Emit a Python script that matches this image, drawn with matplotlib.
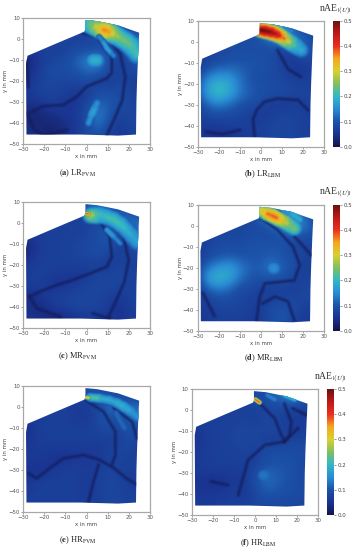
import matplotlib

matplotlib.use("Agg")
import matplotlib.pyplot as plt
import numpy as np
from matplotlib.collections import LineCollection
from matplotlib.colors import LinearSegmentedColormap, Normalize
from matplotlib.patches import Polygon

W, H = 356, 550

X_MM = [-30, -25, -20, -15, -10, -5, 0, 5, 10, 15, 20, 25]
Y_MM = [10, 5, 0, -5, -10, -15, -20, -25, -30, -35, -40, -45]

OUTLINE_X = [-28.5, -28.7, -28, -14, -1, -0.5, -0.5, 5, 15, 25, 24.6, 24, 23.7, 23.5, 15, -3, -28]
OUTLINE_Y = [-45.5, -12, -8, -2, 3.5, 4.5, 9, 8.5, 6.5, 3, -5, -20, -30, -45.5, -46, -45.5, -45.5]

# nAE values in hundredths, rows follow Y_MM, columns follow X_MM
LR_FVM = [
    [8, 8, 8, 8, 8, 8, 14, 16, 12, 9, 8, 8],
    [8, 8, 8, 8, 8, 8, 10, 14, 14, 12, 10, 8],
    [8, 8, 8, 8, 8, 7, 7, 8, 10, 10, 12, 12],
    [6, 6, 7, 7, 7, 9, 9, 10, 9, 8, 10, 12],
    [3, 4, 7, 8, 9, 11, 14, 15, 10, 7, 8, 12],
    [3, 5, 8, 9, 9, 10, 12, 12, 9, 7, 8, 9],
    [4, 6, 8, 8, 8, 8, 9, 7, 6, 8, 7, 6],
    [5, 7, 8, 8, 7, 6, 6, 9, 9, 9, 8, 7],
    [5, 5, 6, 7, 5, 5, 8, 11, 11, 9, 8, 7],
    [3, 3, 4, 5, 6, 6, 9, 14, 11, 8, 8, 8],
    [4, 3, 3, 3, 4, 6, 9, 13, 10, 6, 8, 8],
    [5, 4, 3, 3, 4, 6, 8, 10, 8, 5, 7, 8],
]
LR_LBM = [
    [9, 9, 9, 9, 9, 9, 12, 14, 14, 10, 8, 8],
    [9, 9, 9, 9, 9, 9, 12, 18, 16, 12, 9, 8],
    [9, 9, 9, 9, 9, 9, 10, 12, 14, 14, 12, 9],
    [7, 7, 8, 9, 9, 9, 9, 9, 7, 8, 10, 9],
    [6, 8, 9, 10, 10, 10, 10, 9, 7, 6, 7, 8],
    [8, 12, 14, 14, 12, 10, 9, 9, 8, 6, 5, 7],
    [10, 17, 20, 18, 13, 10, 9, 9, 8, 8, 7, 8],
    [10, 18, 21, 18, 13, 11, 10, 9, 9, 8, 8, 8],
    [8, 12, 14, 12, 10, 9, 8, 6, 6, 6, 7, 7],
    [7, 9, 9, 9, 8, 7, 6, 7, 8, 8, 7, 6],
    [6, 6, 6, 7, 7, 7, 7, 8, 8, 8, 7, 7],
    [5, 5, 5, 5, 6, 6, 7, 8, 8, 8, 7, 7],
]
MR_FVM = [
    [8, 8, 8, 8, 8, 8, 10, 12, 11, 9, 8, 8],
    [8, 8, 8, 8, 8, 8, 10, 14, 12, 11, 10, 8],
    [7, 7, 7, 7, 7, 7, 7, 8, 10, 11, 13, 13],
    [6, 6, 7, 7, 7, 7, 8, 9, 11, 9, 9, 12],
    [3, 5, 7, 7, 7, 8, 8, 9, 10, 8, 8, 9],
    [3, 5, 7, 7, 7, 8, 8, 9, 8, 6, 8, 8],
    [5, 7, 7, 7, 7, 7, 7, 7, 6, 8, 7, 7],
    [6, 7, 7, 6, 6, 5, 6, 8, 8, 8, 8, 7],
    [6, 7, 6, 5, 5, 7, 8, 8, 8, 8, 7, 7],
    [4, 4, 6, 7, 8, 8, 8, 8, 7, 6, 7, 8],
    [5, 4, 4, 6, 7, 8, 8, 8, 6, 5, 6, 8],
    [5, 5, 4, 3, 4, 5, 6, 6, 5, 5, 6, 7],
]
MR_LBM = [
    [8, 8, 8, 8, 8, 8, 14, 18, 16, 12, 9, 8],
    [8, 8, 8, 8, 8, 8, 14, 20, 20, 16, 12, 8],
    [8, 8, 8, 8, 8, 8, 9, 12, 16, 16, 14, 10],
    [7, 7, 8, 8, 8, 9, 9, 8, 10, 10, 10, 9],
    [6, 8, 9, 9, 9, 10, 10, 10, 10, 8, 7, 8],
    [6, 9, 10, 11, 10, 10, 10, 11, 10, 9, 8, 7],
    [8, 13, 16, 17, 14, 11, 11, 14, 11, 10, 6, 8],
    [8, 18, 20, 18, 13, 10, 10, 10, 10, 8, 7, 8],
    [7, 12, 14, 12, 9, 9, 7, 7, 7, 7, 8, 8],
    [6, 8, 9, 9, 8, 7, 7, 7, 8, 8, 8, 8],
    [6, 6, 8, 8, 8, 7, 7, 9, 10, 9, 7, 7],
    [6, 6, 7, 7, 7, 6, 6, 9, 10, 8, 6, 6],
]
HR_FVM = [
    [7, 7, 7, 7, 7, 7, 10, 10, 9, 8, 7, 6],
    [7, 7, 7, 7, 7, 7, 8, 10, 10, 9, 8, 7],
    [7, 7, 7, 7, 7, 6, 6, 8, 12, 13, 13, 13],
    [6, 6, 7, 7, 7, 6, 6, 8, 10, 9, 11, 12],
    [4, 6, 7, 7, 7, 7, 7, 8, 9, 8, 10, 9],
    [5, 6, 7, 7, 7, 7, 7, 7, 7, 7, 9, 7],
    [6, 6, 6, 6, 6, 6, 6, 6, 7, 8, 8, 7],
    [6, 6, 6, 5, 5, 6, 6, 6, 7, 8, 7, 7],
    [5, 5, 5, 6, 7, 7, 6, 7, 8, 7, 7, 7],
    [5, 6, 7, 7, 7, 7, 6, 7, 8, 8, 6, 6],
    [6, 7, 7, 7, 7, 7, 6, 7, 8, 8, 7, 7],
    [6, 7, 7, 7, 7, 7, 6, 7, 8, 8, 7, 7],
]
HR_LBM = [
    [7, 7, 7, 7, 7, 7, 8, 9, 11, 13, 12, 8],
    [7, 7, 7, 7, 7, 7, 9, 9, 11, 13, 13, 9],
    [7, 7, 7, 7, 7, 7, 7, 8, 8, 7, 7, 6],
    [6, 7, 7, 7, 7, 8, 7, 8, 8, 7, 6, 7],
    [5, 6, 7, 7, 8, 8, 8, 8, 8, 7, 6, 7],
    [5, 6, 7, 7, 8, 8, 8, 7, 7, 8, 8, 8],
    [6, 6, 7, 7, 7, 8, 7, 9, 9, 9, 9, 9],
    [6, 6, 7, 7, 7, 7, 7, 9, 10, 10, 9, 8],
    [6, 6, 6, 6, 6, 6, 9, 12, 11, 10, 9, 8],
    [5, 5, 4, 5, 6, 6, 9, 12, 11, 10, 9, 8],
    [6, 6, 6, 6, 7, 6, 8, 10, 10, 9, 9, 8],
    [6, 6, 6, 7, 7, 7, 8, 8, 8, 8, 8, 8],
]

# hot bands and bright spots: x, y, nAE along the crest, width in mm
LR_FVM_RIDGES = [
    ([0, 1.7, 4, 6.5, 8, 9.7, 12, 13.6, 16, 19, 21.5, 24], [8, 7.5, 6.2, 5, 4.4, 3.8, 2.8, 1.9, 0.5, -1.3, -3.5, -7],
     [0.2, 0.22, 0.27, 0.31, 0.35, 0.38, 0.33, 0.28, 0.25, 0.24, 0.23, 0.2], 11),
    ([6, 8, 9.7, 11.5, 13], [1, -1.5, -4.4, -6.5, -8], [0.13, 0.16, 0.19, 0.16, 0.13], 3.5),
    ([1, 2.5, 4, 5], [-40, -36, -33, -30.6], [0.14, 0.18, 0.17, 0.14], 4.5),
    ([3, 5], [-10, -10], [0.19, 0.19], 7),
]
LR_LBM_RIDGES = [
    ([5, 8, 11, 14.5], [8.4, 7.6, 6.6, 5], [0.14, 0.2, 0.17, 0.12], 3),
    ([-0.6, 2, 5, 7.5, 9.8, 12, 14.6, 17, 19.3], [5.7, 5.3, 4.6, 3.7, 2.5, 1, -0.7, -2.2, -3.8],
     [0.5, 0.5, 0.48, 0.45, 0.42, 0.33, 0.25, 0.2, 0.17], 9),
]
MR_FVM_RIDGES = [
    ([1.7, 4, 6.5, 9.5, 12.8, 16, 19, 21.5, 24], [3.8, 3.8, 3.8, 3, 1.7, -0.5, -3.3, -6, -9],
     [0.3, 0.24, 0.2, 0.21, 0.22, 0.21, 0.2, 0.18, 0.17], 9),
    ([-0.6, 1], [4.6, 4.2], [0.42, 0.36], 2.5),
    ([9.7, 13, 16], [-3.3, -6.5, -9.7], [0.16, 0.17, 0.12], 3.5),
]
MR_LBM_RIDGES = [
    ([0.5, 3, 5.9, 8.5, 11.4, 13.5, 16], [7, 5.8, 4.6, 3.3, 1.9, 0.5, -1.3],
     [0.3, 0.35, 0.4, 0.36, 0.3, 0.26, 0.22], 8),
    ([12, 14.6, 18.6], [7, 5.9, 3], [0.14, 0.17, 0.2], 3.5),
    ([6, 6.5], [-20, -20], [0.15, 0.15], 6),
]
HR_FVM_RIDGES = [
    ([1.7, 6, 11, 14.5, 17.6, 21, 24], [4.6, 4.2, 3.3, 2, 0.2, -2, -4.6],
     [0.25, 0.2, 0.18, 0.19, 0.19, 0.17, 0.15], 5.5),
    ([-0.6, 1], [4.6, 4.4], [0.38, 0.3], 2.5),
    ([14, 18], [-3, -10], [0.12, 0.12], 4),
]
HR_LBM_RIDGES = [
    ([0.2, 2.2], [5, 3.6], [0.47, 0.3], 3),
    ([6, 9.4], [7, 5], [0.12, 0.16], 3),
    ([14, 19], [7, 5], [0.2, 0.18], 3),
    ([3.8, 4.5], [-31, -31], [0.13, 0.13], 6),
]

# dark valleys of the error field: x, y
LR_FVM_VALLEYS = [
    ([-1.4, 5, 12, 12, 9.7, 0, -4.6, -11, -20.5, -26], [2.7, 1, -8.4, -16, -18.7, -22.7, -27.5, -31.4, -32, -34.6]),
    ([8, 16, 18.4, 17, 13, 9.7], [2.7, -7, -18, -29, -38.6, -45.7]),
    ([-28, -25, -20.5, -15.7, -9.4], [-35.4, -43, -45.7, -45, -43.3]),
    ([-28.4, -27.6], [-10, -22.7]),
]
LR_LBM_VALLEYS = [
    ([-3, -3.7, -2, 1.8, 8, 17.7, 22.5], [-45, -37, -32.5, -28.5, -27, -27.7, -32.5]),
    ([8, 13, 19], [-4, -13, -16.6]),
    ([-26, -18, -10], [-43, -44, -42]),
]
MR_FVM_VALLEYS = [
    ([0, 6.5, 11, 12, 9.7, 1.7, -6, -14, -22, -27], [3, 0.6, -6.5, -16, -20.8, -24, -27, -29.5, -32.7, -35]),
    ([9.7, 17.6, 20, 18, 13.6, 10.5], [2, -6.5, -17.6, -28, -38, -44.6]),
    ([-27, -23.6, -12.5], [-35, -40.6, -44.6]),
    ([3, 11], [-43, -45.5]),
]
MR_LBM_VALLEYS = [
    ([0, 8, 15.4, 18.6, 16, 2, -0.5, -2], [3.5, -2, -10, -18.7, -26, -27.5, -34, -45]),
    ([1, 6.7, 13, 16], [-37, -33.8, -36, -45]),
    ([16, 24], [-5, -14]),
    ([-27.5, -22], [-32, -43]),
    ([7.5, 15.4], [8.2, 1.9]),
]
HR_FVM_VALLEYS = [
    ([-27.6, -23.6, -17.3, -11, -1.4, 5.7, 12.9, 19, 24], [-31.6, -34, -29, -24.4, -22.9, -25, -29, -34, -37]),
    ([0, 8, 13.7, 13.7, 12], [3, -2.2, -11.7, -22.9, -27.6]),
    ([5.7, 3.3, 1], [-27.6, -35.6, -45]),
    ([13, 21.6, 24], [-0.6, -7, -15]),
]
HR_LBM_VALLEYS = [
    ([3, 9.4, 11.7, 14], [2.4, -4, -10, -15]),
    ([14, 17.3, 16.5, 14], [3, -5.6, -12, -15]),
    ([18, 24.4], [0.8, -2.4]),
    ([20.5, 14, 4.6, -3.3, -5.7, -8], [-8.7, -15, -16.7, -23.8, -32.5, -40.5]),
    ([-20.8, -13], [-34, -35.7]),
]

TICKS_X = [-30, -20, -10, 0, 10, 20, 30]
TICKS_Y = [-50, -40, -30, -20, -10, 0, 10]
CBAR_TICKS = [0.0, 0.1, 0.2, 0.3, 0.4, 0.5]

CMAP_COLORS = ["#14144a", "#1a3490", "#1c52a8", "#2a8cd4", "#30b8c8", "#80c060",
               "#d8d030", "#f5a820", "#ea3020", "#c01818", "#6a1010"]

cmap = LinearSegmentedColormap.from_list("nae", CMAP_COLORS)
norm = Normalize(0, 0.5)

plt.rcParams["font.family"] = "DejaVu Sans"
plt.rcParams["mathtext.fontset"] = "stix"

fig = plt.figure(figsize=(W / 100, H / 100), dpi=100)


def px_axes(left, top, right, bottom):
    return fig.add_axes([left / W, 1 - bottom / H, (right - left) / W, (bottom - top) / H])


def draw_ridge(ax, xs, ys, vals, width, clip, z):
    # layered strokes, wide and faint first, thin and at the crest value last
    pts = np.column_stack([xs, ys])
    segs = np.stack([pts[:-1], pts[1:]], axis=1)
    seg_vals = (np.array(vals[:-1]) + np.array(vals[1:])) / 2
    mid = segs.mean(axis=1)
    cols = np.abs(mid[:, 0, None] - np.array(X_MM)).argmin(axis=1)
    rows = np.abs(mid[:, 1, None] - np.array(Y_MM)).argmin(axis=1)
    base = z[rows, cols]
    mm_pt = 126.4 / 60 * 0.72
    for f in np.linspace(1, 0.1, 10):
        t = (1 - f) / 0.9
        lc = LineCollection(segs, cmap=cmap, norm=norm, linewidths=width * f * mm_pt,
                            capstyle="round", alpha=0.2 + 0.7 * t)
        lc.set_array(base + (seg_vals - base) * np.sqrt(t))
        ax.add_collection(lc)
        lc.set_clip_path(clip)


def draw_valley(ax, xs, ys, clip):
    for lw, alpha in [(4.0, 0.12), (2.8, 0.18), (1.8, 0.25), (1.0, 0.4)]:
        line, = ax.plot(xs, ys, color=cmap(norm(0.015)), lw=lw, alpha=alpha,
                        solid_capstyle="round", solid_joinstyle="round")
        line.set_clip_path(clip)


def draw_panel(box, values, ridges, valleys):
    ax = px_axes(*box)
    clip = Polygon(np.column_stack([OUTLINE_X, OUTLINE_Y]), transform=ax.transData,
                   fc="none", ec="none")
    ax.add_patch(clip)
    z = np.array(values) / 100
    im = ax.imshow(z, cmap=cmap, norm=norm, interpolation="bicubic", aspect="auto",
                   extent=(X_MM[0] - 2.5, X_MM[-1] + 2.5, Y_MM[-1] - 2.5, Y_MM[0] + 2.5))
    im.set_clip_path(clip)
    for xs, ys in valleys:
        draw_valley(ax, xs, ys, clip)
    for xs, ys, vals, width in ridges:
        draw_ridge(ax, xs, ys, vals, width, clip, z)
    ax.set_xlim(-30, 30)
    ax.set_ylim(-50, 10)
    ax.set_xticks(TICKS_X)
    ax.set_yticks(TICKS_Y)
    ax.tick_params(labelsize=3.9, length=1.5, width=0.4, pad=1, colors="#555555")
    ax.set_xlabel("x in mm", fontsize=3.9, labelpad=1, color="#444444")
    ax.set_ylabel("y in mm", fontsize=3.9, labelpad=0, color="#444444")
    for sp in ax.spines.values():
        sp.set_color("#a8a8a8")
        sp.set_linewidth(0.9)
    return ax


def draw_cbar(box, title_x, title_y):
    cax = px_axes(*box)
    cb = fig.colorbar(plt.cm.ScalarMappable(norm=norm, cmap=cmap), cax=cax)
    cb.set_ticks(CBAR_TICKS)
    cb.ax.tick_params(labelsize=3.9, length=1.5, width=0.4, pad=1, colors="#444444")
    cb.outline.set_visible(False)
    fig.text(title_x / W, 1 - title_y / H, r"nAE$_{|\langle U\rangle|}$", fontsize=7,
             family="Liberation Serif", ha="center", va="center", color="#333333")


def caption(x, y, letter, run, scheme):
    fig.text(x / W, 1 - y / H, rf"($\mathbf{{{letter}}}$) {run}$_{{\mathrm{{{scheme}}}}}$",
             fontsize=6, family="Liberation Serif", ha="center", va="center", color="#222222")


draw_panel((23.3, 18, 149.7, 144), LR_FVM, LR_FVM_RIDGES, LR_FVM_VALLEYS)
draw_panel((198, 21, 323.7, 146.7), LR_LBM, LR_LBM_RIDGES, LR_LBM_VALLEYS)
draw_panel((23.3, 202, 149.7, 328), MR_FVM, MR_FVM_RIDGES, MR_FVM_VALLEYS)
draw_panel((197.7, 204.7, 323.7, 330.7), MR_LBM, MR_LBM_RIDGES, MR_LBM_VALLEYS)
draw_panel((23.3, 386, 149.7, 512), HR_FVM, HR_FVM_RIDGES, HR_FVM_VALLEYS)
draw_panel((192, 389, 318, 515), HR_LBM, HR_LBM_RIDGES, HR_LBM_VALLEYS)

draw_cbar((332.7, 21, 340, 146.7), 335, 9)
draw_cbar((332.7, 204.7, 340, 330.7), 335, 192)
draw_cbar((327, 389, 334.3, 515), 330, 377)

caption(78, 173, "a", "LR", "FVM")
caption(263, 174, "b", "LR", "LBM")
caption(78, 356, "c", "MR", "FVM")
caption(264, 358, "d", "MR", "LBM")
caption(78, 540, "e", "HR", "FVM")
caption(258, 543, "f", "HR", "LBM")

fig.savefig("out.png", dpi=100)
